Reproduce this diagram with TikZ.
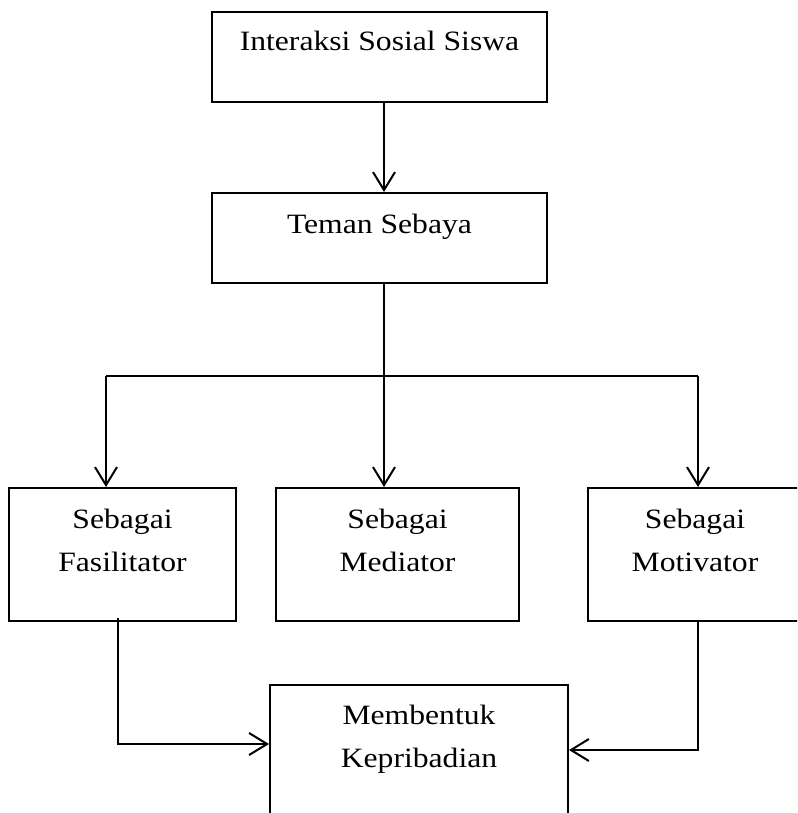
\documentclass[tikz,border=0pt]{standalone}
\usepackage{fontspec}
\setmainfont{Liberation Serif}[FakeStretch=1.13]
\usetikzlibrary{arrows.meta,positioning,calc}
\newcommand{\boxfont}{\fontsize{28pt}{43pt}\selectfont}
\tikzset{
  block/.style={draw, line width=2pt, inner sep=0pt, align=center,
                anchor=north, font=\boxfont},
  flow/.style={-{Straight Barb[length=18pt,width=22pt,line width=2pt]},
               line width=2pt},
  link/.style={line width=2pt},
}
\begin{document}
\begin{tikzpicture}[x=1pt,y=-1pt]
\useasboundingbox (0,0) rectangle (797,813);
\clip (0,0) rectangle (797,813);

% ---- top row -------------------------------------------------------
\node[block, minimum width=335pt, text height=39pt, text depth=51pt]
     (sosial) at (379.5,11) {Interaksi Sosial Siswa};
\node[block, minimum width=335pt, text height=40pt, text depth=50pt]
     (teman) at (379.5,192) {Teman Sebaya};

% ---- roles ---------------------------------------------------------
\node[block, minimum width=227pt, text height=83pt, text depth=50pt]
     (fasil) at (122.5,487) {Sebagai\\ Fasilitator};
\node[block, minimum width=243pt, text height=83pt, text depth=50pt]
     (media) at (397.5,487) {Sebagai\\ Mediator};
\node[block, minimum width=214pt, text height=83pt, text depth=50pt]
     (motiv) at (695,487) {Sebagai\\ Motivator};

% ---- result --------------------------------------------------------
\node[block, minimum width=298pt, text height=82pt, text depth=80pt]
     (bentuk) at (419,684) {Membentuk\\ Kepribadian};

% ---- connectors ----------------------------------------------------
\coordinate (hub) at (384,376);
\coordinate (lsplit) at (106,376);
\coordinate (rsplit) at (698,376);
\coordinate (lin) at (118,744);
\coordinate (rin) at (698,750);

\draw[flow] (sosial.south -| hub) -- (teman.north -| hub);
\draw[flow] (teman.south -| hub) -- (media.north -| hub);
\draw[link] (lsplit) -- (rsplit);
\draw[flow] (lsplit) -- (lsplit |- fasil.north);
\draw[flow] (rsplit) -- (rsplit |- motiv.north);
\draw[flow] ($(lin |- fasil.south)+(0,-4)$) -- (lin) -- (lin -| bentuk.west);
\draw[flow] (rin |- motiv.south) -- (rin) -- (rin -| bentuk.east);
\end{tikzpicture}
\end{document}
